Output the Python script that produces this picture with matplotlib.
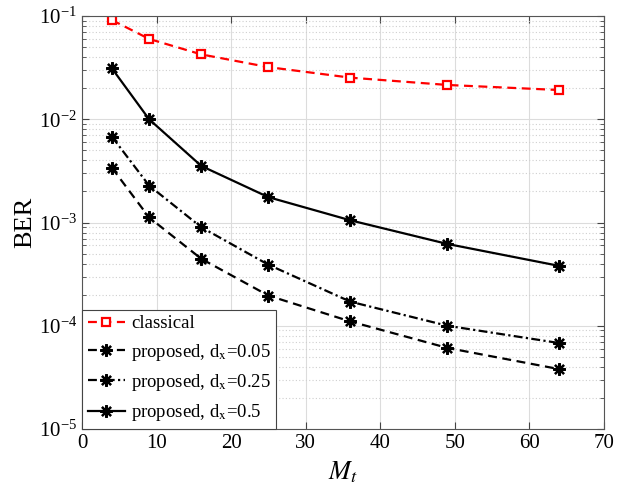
import matplotlib
matplotlib.use("Agg")
import matplotlib.pyplot as plt
import numpy as np
from matplotlib.ticker import LogLocator, NullFormatter, MultipleLocator

plt.rcParams['font.family'] = 'serif'
plt.rcParams['font.serif'] = ['Liberation Serif', 'DejaVu Serif']
plt.rcParams['mathtext.fontset'] = 'stix'

Mt = [4, 9, 16, 25, 36, 49, 64]
ber_classical = [0.0915, 0.060, 0.0425, 0.032, 0.0253, 0.0215, 0.0192]
ber_d005 = [0.0034, 0.00112, 0.000445, 0.000196, 0.00011, 6.1e-5, 3.8e-5]
ber_d025 = [0.0068, 0.00228, 0.0009, 0.00039, 0.000171, 0.0001, 6.8e-5]
ber_d05 = [0.0312, 0.0100, 0.00353, 0.00176, 0.00105, 0.00062, 0.00038]
labels = ['classical', 'proposed, d$_{\\mathrm{x}}$=0.05',
          'proposed, d$_{\\mathrm{x}}$=0.25', 'proposed, d$_{\\mathrm{x}}$=0.5']

fig = plt.figure(figsize=(6.25, 5.01), dpi=100)
ax = fig.add_axes([0.1312, 0.1437, 0.8352, 0.8243])

star = (8, 2, 0)
ax.plot(Mt, ber_classical, color='red', lw=1.6, dashes=(4, 2.5), marker='s',
        ms=5.5, mfc='white', mec='red', mew=1.6, label=labels[0])
ax.plot(Mt, ber_d005, color='black', lw=1.6, dashes=(4, 2.5), marker=star,
        ms=9, mew=1.6, label=labels[1])
ax.plot(Mt, ber_d025, color='black', lw=1.6, dashes=(4, 1.5, 1, 1.5), marker=star,
        ms=9, mew=1.6, label=labels[2])
ax.plot(Mt, ber_d05, color='black', lw=1.6, ls='-', marker=star,
        ms=9, mew=1.6, label=labels[3])

ax.set_yscale('log')
ax.set_xlim(0, 70)
ax.set_ylim(1e-5, 1e-1)
ax.xaxis.set_major_locator(MultipleLocator(10))
ax.yaxis.set_major_locator(LogLocator(base=10, numticks=10))
ax.yaxis.set_minor_locator(LogLocator(base=10, subs=np.arange(2, 10), numticks=20))
ax.yaxis.set_minor_formatter(NullFormatter())

ax.grid(True, which='major', color='#dcdcdc', lw=0.8, ls='-')
ax.grid(True, which='minor', axis='y', color='#cfcfcf', lw=0.8, ls=(0, (1, 2)))
ax.set_axisbelow(True)

ax.tick_params(which='both', direction='in', top=True, right=True,
               labelsize=15, color='#444444')
ax.tick_params(which='major', length=5)
ax.tick_params(which='minor', length=3)
for s in ax.spines.values():
    s.set_color('#555555')
    s.set_linewidth(0.8)

ax.set_ylabel('BER', fontsize=19, labelpad=2)
ax.set_xlabel('$M_t$', fontsize=19, labelpad=5)

leg = ax.legend(loc='lower left', borderaxespad=0, fontsize=13.5,
                handlelength=2.0, handletextpad=0.3, labelspacing=0.5,
                fancybox=False, framealpha=1, edgecolor='#444444',
                borderpad=0.3)
leg.get_frame().set_linewidth(0.8)

fig.savefig('out.png', dpi=100)
